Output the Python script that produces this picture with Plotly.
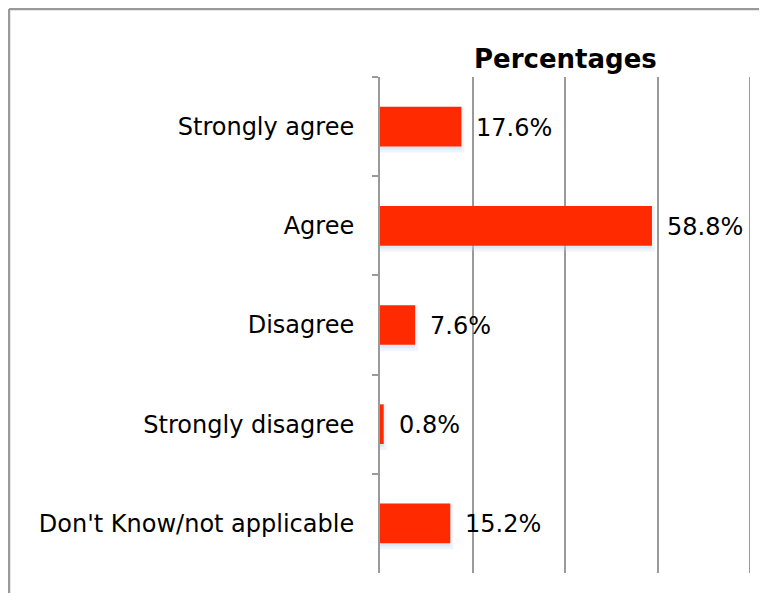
import plotly.graph_objects as go

categories = ["Strongly agree", "Agree", "Disagree", "Strongly disagree", "Don't Know/not applicable"]
values = [17.6, 58.8, 7.6, 0.8, 15.2]
value_labels = ["17.6%", "58.8%", "7.6%", "0.8%", "15.2%"]
axis_title = "Percentages"
x_max = 80

FONT = "DejaVu Sans, Verdana, sans-serif"
GRAY = "#9a9a9a"

W, H = 759, 585
L, R, T, B = 372, 17, 69, 20
PW, PH = W - L - R, H - T - B

fig = go.Figure()
# soft shadow
fig.add_trace(go.Bar(
    x=values, y=categories, orientation="h", width=0.4, offset=-0.17,
    marker=dict(color="rgba(190,208,235,0.35)", line=dict(color="rgba(190,208,235,0.25)", width=6)),
    hoverinfo="skip", showlegend=False,
))
fig.add_trace(go.Bar(
    x=values, y=categories, orientation="h", width=0.4, offset=-0.2,
    marker=dict(color="#ff2a00", line=dict(width=0)),
    showlegend=False,
))

for c, v, t in zip(categories, values, value_labels):
    fig.add_annotation(x=v, y=c, text=t, showarrow=False, xanchor="left", xshift=13, yshift=-1,
                       font=dict(family=FONT, size=24, color="#000"))

fig.add_annotation(x=0.5, y=1, xref="paper", yref="paper", text="<b>" + axis_title + "</b>",
                   showarrow=False, yanchor="bottom", yshift=1,
                   font=dict(family=FONT, size=26, color="#000"))

# gridline at the right end of the axis
fig.add_shape(type="line", xref="x", yref="paper", x0=x_max, x1=x_max, y0=0, y1=1,
              line=dict(color=GRAY, width=2), layer="below")

# frame (top and left edges of the figure)
fx = (1 - L) / PW
fy = (H - B - 1) / PH
fig.add_shape(type="line", xref="paper", yref="paper", x0=fx, x1=1.2, y0=fy, y1=fy,
              line=dict(color=GRAY, width=2.5))
fig.add_shape(type="line", xref="paper", yref="paper", x0=fx, x1=fx, y0=fy, y1=-0.2,
              line=dict(color=GRAY, width=2.5))

fig.update_layout(
    width=W, height=H,
    margin=dict(l=L, r=R, t=T, b=B),
    paper_bgcolor="white", plot_bgcolor="white",
    barmode="overlay",
    font=dict(family=FONT, size=24, color="#000"),
    xaxis=dict(range=[0, x_max], dtick=20, showgrid=True, gridcolor=GRAY, gridwidth=2,
               showticklabels=False, zeroline=False, showline=False, fixedrange=True),
    yaxis=dict(autorange="reversed", tickson="boundaries", ticks="outside", ticklen=6,
               tickcolor=GRAY, tickwidth=2, showline=True, linecolor=GRAY, linewidth=2,
               showgrid=False, ticklabelstandoff=19, tickfont=dict(family=FONT, size=24, color="#000")),
)

fig.write_html("out.html")
